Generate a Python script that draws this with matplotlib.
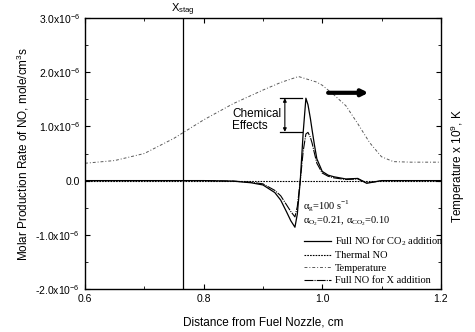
import matplotlib.pyplot as plt
from matplotlib.lines import Line2D
from matplotlib.ticker import MultipleLocator

plt.rcParams['font.family'] = ['Liberation Sans', 'DejaVu Sans']
plt.rcParams['mathtext.fontset'] = 'custom'
plt.rcParams['mathtext.rm'] = 'Liberation Sans'

# temperature profile, drawn on the left scale (x 1e-6)
x_temp = [0.6, 0.65, 0.7, 0.75, 0.8, 0.85, 0.9, 0.93, 0.96, 0.99, 1.0, 1.02,
          1.04, 1.06, 1.08, 1.1, 1.12, 1.15, 1.2]
temp = [0.32, 0.37, 0.50, 0.78, 1.12, 1.42, 1.67, 1.81, 1.92, 1.82, 1.76, 1.58,
        1.38, 1.05, 0.70, 0.44, 0.35, 0.34, 0.34]

# NO production rates, 1e-6 mole/cm3s
x_no = [0.6, 0.7, 0.8, 0.85, 0.88, 0.9, 0.92, 0.93, 0.94, 0.947, 0.954, 0.958,
        0.963, 0.968, 0.9725, 0.976, 0.98, 0.983, 0.987, 0.991, 1.0, 1.01,
        1.02, 1.04, 1.06, 1.075, 1.09, 1.1, 1.15, 1.2]
full_co2 = [0, 0, 0, -0.01, -0.04, -0.08, -0.22, -0.36, -0.58, -0.74, -0.86, -0.62,
            0.0, 0.9, 1.52, 1.40, 1.15, 0.93, 0.65, 0.40, 0.17, 0.10,
            0.07, 0.03, 0.04, -0.05, -0.02, 0, 0, 0]
full_x = [0, 0, 0, -0.01, -0.03, -0.06, -0.18, -0.28, -0.45, -0.57, -0.67, -0.48,
          0.0, 0.55, 0.86, 0.89, 0.80, 0.69, 0.50, 0.32, 0.14, 0.08,
          0.05, 0.02, 0.03, -0.04, -0.02, 0, 0, 0]
thermal = [0] * len(x_no)

x_stag = 0.765
yticks = [-2, -1, 0, 1, 2, 3]
ytick_labels = ['-2.0x10$^{-6}$', '-1.0x10$^{-6}$', '0.0',
                '1.0x10$^{-6}$', '2.0x10$^{-6}$', '3.0x10$^{-6}$']

fig = plt.figure(figsize=(4.75, 3.32), dpi=100)
ax = fig.add_axes([0.179, 0.1295, 0.749, 0.8163])

ax.plot(x_temp, temp, color='0.35', lw=0.7, ls=(0, (3, 2, 1, 2)))
ax.plot(x_no, thermal, color='k', lw=0.8, ls=(0, (1.5, 1)))
ax.plot(x_no, full_x, color='k', lw=0.8, ls=(0, (8, 1, 1, 1)))
ax.plot(x_no, full_co2, color='k', lw=0.9)
ax.axvline(x_stag, color='k', lw=0.9)

ax.set_xlim(0.6, 1.2)
ax.set_ylim(-2, 3)
ax.set_xticks([0.6, 0.8, 1.0, 1.2])
ax.set_xticklabels(['0.6', '0.8', '1.0', '1.2'])
ax.xaxis.set_minor_locator(MultipleLocator(0.1))
ax.set_yticks(yticks)
ax.set_yticklabels(ytick_labels)
ax.yaxis.set_minor_locator(MultipleLocator(0.5))
ax.tick_params(which='both', direction='in', top=True, right=True, labelsize=7.5)
ax.tick_params(which='major', length=3.5)
ax.tick_params(which='minor', length=2)
for s in ax.spines.values():
    s.set_linewidth(1.0)

ax.set_xlabel('Distance from Fuel Nozzle, cm', fontsize=8.5, labelpad=9)
ax.set_ylabel('Molar Production Rate of NO, mole/cm$^3$s', fontsize=8.5, labelpad=3)
fig.text(0.965, 0.5, 'Temperature x 10$^9$, K', rotation=90, fontsize=8.5,
         ha='center', va='center')

ax.text(x_stag, 3.0, 'X$_\\mathregular{stag}$', fontsize=8, ha='center', va='bottom')

# chemical effects bracket
ax.plot([0.929, 0.966], [1.52, 1.52], color='k', lw=0.9)
ax.plot([0.929, 0.966], [0.90, 0.90], color='k', lw=0.9)
ax.annotate('', xy=(0.937, 1.52), xytext=(0.937, 0.90),
            arrowprops=dict(arrowstyle='<|-|>', lw=0.8, color='k', mutation_scale=5,
                            shrinkA=0, shrinkB=0))
ax.text(0.848, 1.12, 'Chemical\nEffects', fontsize=8.5, ha='left', va='center',
        linespacing=1.05)

# arrow pointing to temperature axis
ax.annotate('', xy=(1.078, 1.62), xytext=(1.01, 1.62),
            arrowprops=dict(arrowstyle='-|>', lw=3, color='k', mutation_scale=9,
                            shrinkA=0, shrinkB=0))

serif = ['Liberation Serif', 'DejaVu Serif']
ax.text(0.967, -0.47, 'α$_\\mathregular{g}$=100 s$^\\mathregular{-1}$', fontsize=7.5,
        family=serif, va='center')
ax.text(0.967, -0.75, 'α$_\\mathregular{O_2}$=0.21, α$_\\mathregular{CO_2}$=0.10',
        fontsize=7.5, family=serif, va='center')

handles = [Line2D([], [], color='k', lw=0.9),
           Line2D([], [], color='k', lw=0.8, ls=(0, (1.5, 1))),
           Line2D([], [], color='0.35', lw=0.7, ls=(0, (3, 2, 1, 2))),
           Line2D([], [], color='k', lw=0.8, ls=(0, (8, 1, 1, 1)))]
labels = ['Full NO for CO$_\\mathregular{2}$ addition', 'Thermal NO', 'Temperature',
          'Full NO for X addition']
ax.legend(handles, labels, loc='lower left', bbox_to_anchor=(0.612, 0.01),
          frameon=False, borderaxespad=0, borderpad=0.1, handlelength=2.6,
          handletextpad=0.4, labelspacing=0.3, prop={'family': serif, 'size': 7.5})

fig.savefig('out.png', dpi=100)
